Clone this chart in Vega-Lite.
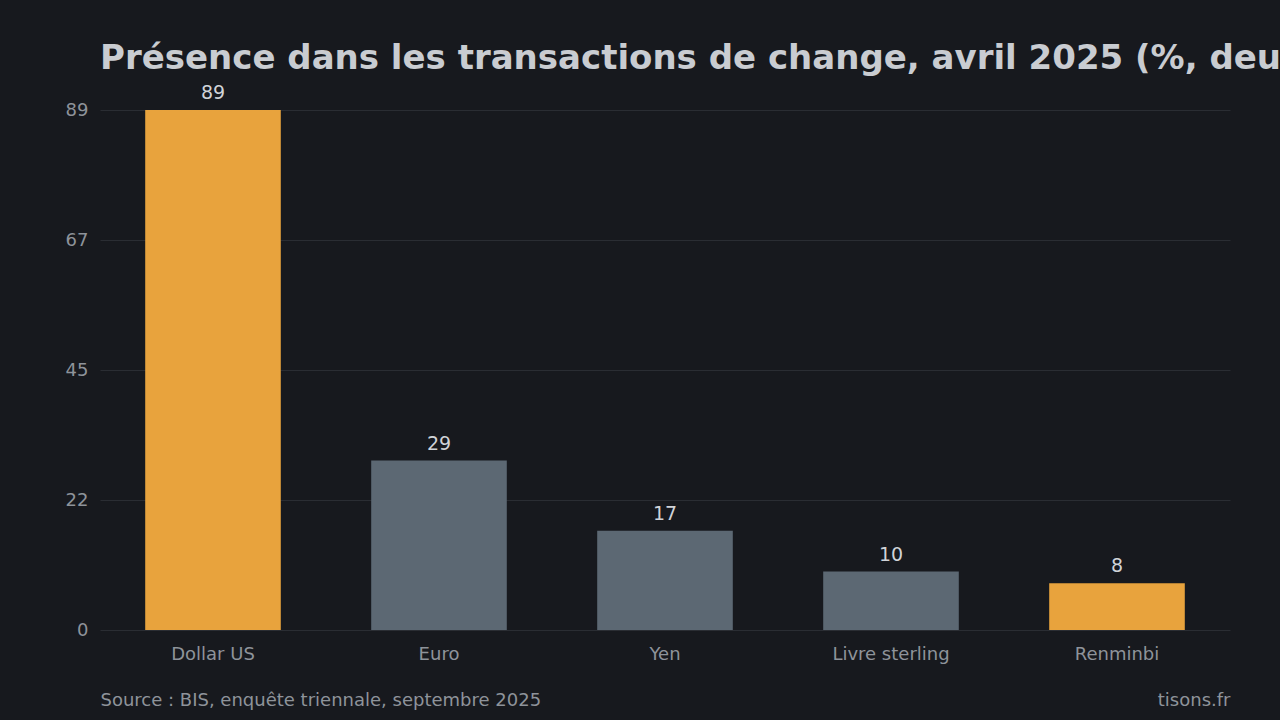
{
  "$schema": "https://vega.github.io/schema/vega-lite/v6.json",
  "width": 1130,
  "height": 520,
  "autosize": {"type": "none"},
  "padding": {"left": 100, "top": 110, "right": 50, "bottom": 90},
  "background": "#17191e",
  "config": {
    "view": {"stroke": null},
    "font": "DejaVu Sans"
  },
  "title": {
    "text": "Présence dans les transactions de change, avril 2025 (%, deux devises par transaction)",
    "anchor": "start",
    "frame": "group",
    "font": "DejaVu Sans",
    "fontSize": 34,
    "fontWeight": "bold",
    "color": "#c9ccd1",
    "baseline": "alphabetic",
    "offset": -19
  },
  "data": {
    "values": [
      {"devise": "Dollar US", "part": 89},
      {"devise": "Euro", "part": 29},
      {"devise": "Yen", "part": 17},
      {"devise": "Livre sterling", "part": 10},
      {"devise": "Renminbi", "part": 8}
    ]
  },
  "encoding": {
    "x": {
      "field": "devise",
      "type": "nominal",
      "sort": null,
      "scale": {"paddingInner": 0.4, "paddingOuter": 0.2},
      "axis": {
        "labelAngle": 0,
        "labelFontSize": 18,
        "labelColor": "#8e939a",
        "labelBaseline": "alphabetic",
        "labelPadding": 29,
        "ticks": false,
        "domain": false,
        "title": "Source : BIS, enquête triennale, septembre 2025",
        "titleAnchor": "start",
        "titleAlign": "left",
        "titleBaseline": "alphabetic",
        "titleX": 0,
        "titleY": 75,
        "titleFontSize": 18,
        "titleFontWeight": "normal",
        "titleColor": "#8e939a"
      }
    },
    "y": {
      "field": "part",
      "type": "quantitative",
      "scale": {"domain": [0, 89], "nice": false},
      "axis": {
        "values": [0, 22.25, 44.5, 66.75, 89],
        "format": ".0f",
        "grid": true,
        "gridColor": "#2a2d33",
        "gridWidth": 1,
        "domain": false,
        "ticks": false,
        "labelPadding": 12,
        "labelFontSize": 18,
        "labelColor": "#8e939a",
        "title": "tisons.fr",
        "titleAngle": 0,
        "titleAlign": "right",
        "titleBaseline": "alphabetic",
        "titleX": 1130,
        "titleY": 595,
        "titleFontSize": 18,
        "titleFontWeight": "normal",
        "titleColor": "#8e939a"
      }
    }
  },
  "layer": [
    {
      "mark": {"type": "bar"},
      "encoding": {
        "color": {
          "condition": {"test": {"field": "devise", "oneOf": ["Dollar US", "Renminbi"]}, "value": "#e8a33d"},
          "value": "#5c6873"
        }
      }
    },
    {
      "mark": {"type": "text", "baseline": "alphabetic", "dy": -11, "fontSize": 19, "color": "#d0d3d8"},
      "encoding": {
        "text": {"field": "part", "type": "quantitative", "format": ".0f"}
      }
    }
  ]
}
